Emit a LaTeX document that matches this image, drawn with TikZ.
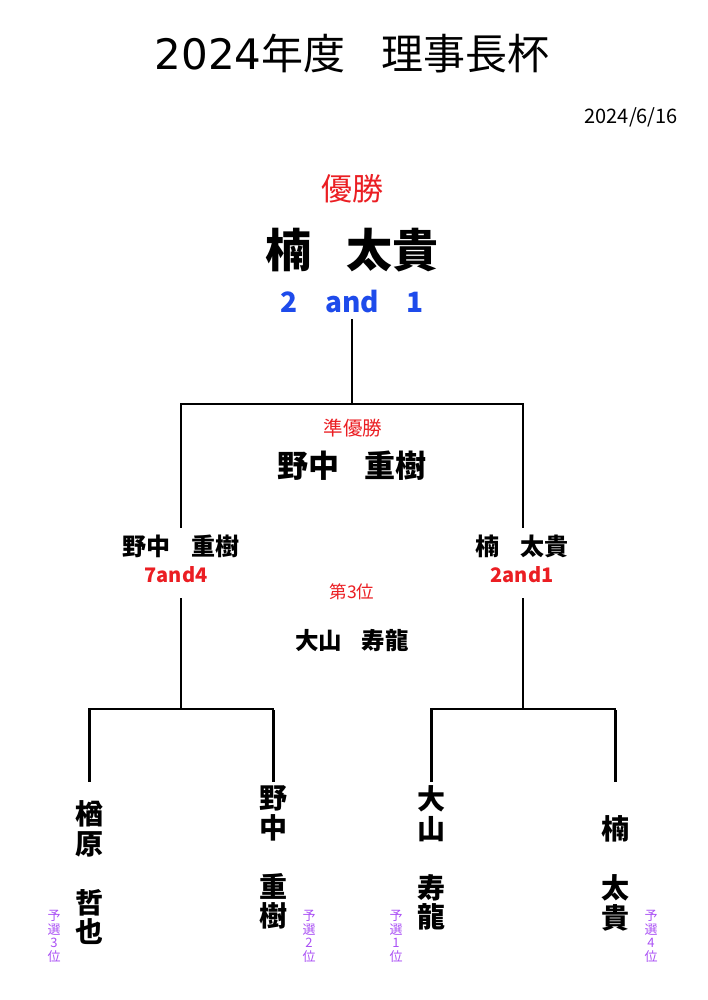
\documentclass[tikz,border=0pt]{standalone}
\usepackage{fontspec}
\newfontfamily\jp{Noto Sans CJK JP}
\newfontfamily\dv{DejaVu Sans}
\definecolor{wred}{RGB}{235,30,35}
\definecolor{wblue}{RGB}{30,75,235}
\definecolor{wpurple}{RGB}{170,80,245}
\begin{document}
\begin{tikzpicture}[x=1pt,y=-1pt,
  every node/.style={inner sep=0pt,outer sep=0pt},
  bracket/.style={line width=2pt,line cap=rect,line join=miter},
  leafbar/.style={line width=3pt},
  redlab/.style={text=wred},
  namebig/.style={font=\jp\bfseries\fontsize{31}{31}\selectfont},
  namemid/.style={font=\jp\bfseries\fontsize{24}{24}\selectfont},
  scoremid/.style={text=wred,font=\jp\bfseries\fontsize{20}{20}\selectfont},
  vname/.style={font=\jp\bfseries\fontsize{28}{29.5}\selectfont,align=center,anchor=north},
  vrank/.style={text=wpurple,font=\jp\fontsize{13}{13.8}\selectfont,align=center,anchor=north}]
\fill[white] (0,0) rectangle (707,1000);
\useasboundingbox (0,0) rectangle (707,1000);
% header
\node[font=\jp\fontsize{42}{42}\selectfont] (title) at (352,54) {{\dv 2024}年度\hspace{0.85em}理事長杯};
\node[anchor=east,font=\jp\fontsize{20}{20}\selectfont] (date) at (678,117) {2024/6/16};
% champion
\node[redlab,font=\jp\fontsize{31}{31}\selectfont] (champlab) at (352,189) {優勝};
\node[font=\jp\bfseries\fontsize{46}{46}\selectfont] (champ) at (352,250) {楠\hspace{0.76em}太貴};
\node[text=wblue,font=\jp\bfseries\fontsize{28}{28}\selectfont] (champscore) at (352,302) {2　and　1};
% runner-up and third
\node[redlab,font=\jp\fontsize{19.5}{19.5}\selectfont] (runlab) at (353,428) {準優勝};
\node[namebig] (runner) at (352,466) {野中\hspace{0.8em}重樹};
\node[redlab,font=\jp\fontsize{17.5}{17.5}\selectfont] (thirdlab) at (352,592) {第3位};
\node[font=\jp\bfseries\fontsize{23.5}{23.5}\selectfont] (third) at (352,641) {大山\hspace{0.85em}寿龍};
% semifinal winners
\node[namemid] (semiL) at (181,546) {野中\hspace{0.85em}重樹};
\node[scoremid] (semiLs) at (176,575) {7and4};
\node[namemid] (semiR) at (522,546) {楠\hspace{0.85em}太貴};
\node[scoremid] (semiRs) at (522,575) {2and1};
% bracket coordinates
\coordinate (top) at (352,320);
\coordinate (tj) at (352,404);
\coordinate (tl) at (181,404);
\coordinate (tr) at (523,404);
\coordinate (lA) at (181,527);
\coordinate (lB) at (181,599);
\coordinate (lj) at (181,709);
\coordinate (rA) at (523,527);
\coordinate (rB) at (523,599);
\coordinate (rj) at (523,709);
\coordinate (l1) at (89,709);
\coordinate (l2) at (273,709);
\coordinate (r1) at (431,709);
\coordinate (r2) at (615,709);
\coordinate (l1e) at (89,782);
\coordinate (l2e) at (273,782);
\coordinate (r1e) at (431,782);
\coordinate (r2e) at (615,782);
\draw[bracket] (top) -- (tj);
\draw[bracket] (lA) -- (tl) -- (tr) -- (rA);
\draw[bracket] (lB) -- (lj);
\draw[bracket] (rB) -- (rj);
\draw[bracket] (l1) -- (l2);
\draw[bracket] (r1) -- (r2);
\draw[leafbar] ([yshift=-1pt]l1) -- (l1e);
\draw[leafbar] ([yshift=-1pt]l2) -- (l2e);
\draw[leafbar] ([yshift=-1pt]r1) -- (r1e);
\draw[leafbar] ([yshift=-1pt]r2) -- (r2e);
% players
\node[vname] (p1) at (89,801) {楢\\原\\　\\哲\\也};
\node[vname] (p2) at (273,786) {野\\中\\　\\重\\樹};
\node[vname] (p3) at (431,786) {大\\山\\　\\寿\\龍};
\node[vname] (p4) at (615,816) {楠\\　\\太\\貴};
% preliminary ranks
\node[vrank] (q1) at (54,910) {予\\選\\3\\位};
\node[vrank] (q2) at (309,910) {予\\選\\2\\位};
\node[vrank] (q3) at (396,910) {予\\選\\1\\位};
\node[vrank] (q4) at (651,910) {予\\選\\4\\位};
\end{tikzpicture}
\end{document}
